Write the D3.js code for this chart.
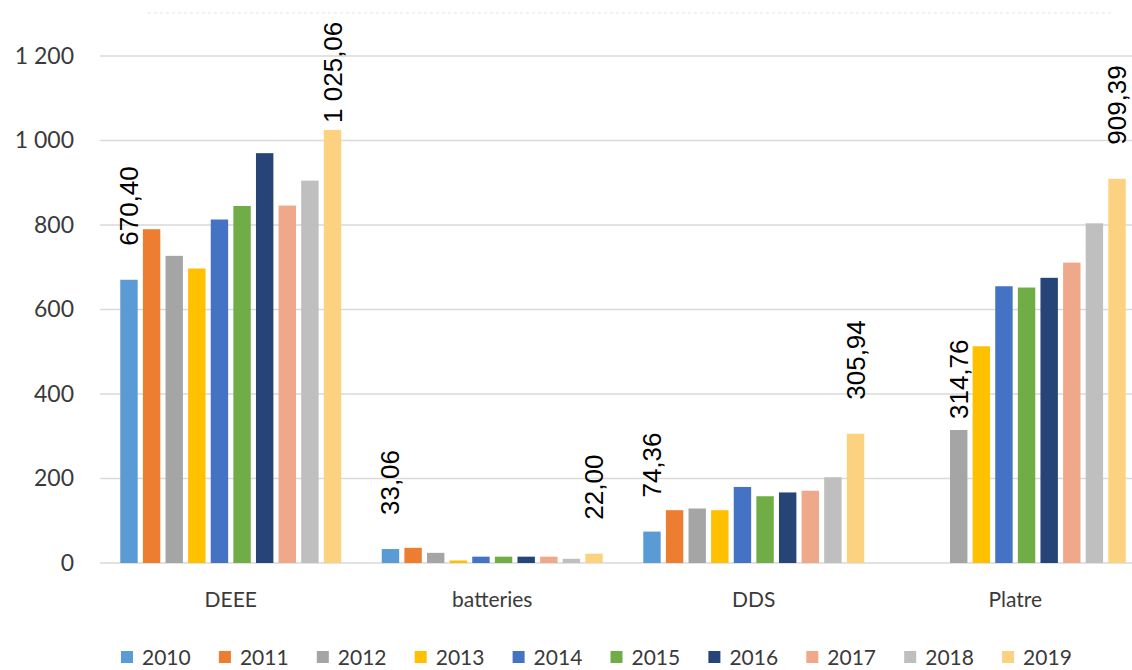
<!DOCTYPE html>
<html>
<head>
<meta charset="utf-8">
<script src="https://cdn.jsdelivr.net/npm/d3@7"></script>
<style>
  body { margin: 0; background: #fff; }
  svg { display: block; }
</style>
</head>
<body>
<div id="chart"></div>
<script>
// categories and series
const categories = ['DEEE', 'batteries', 'DDS', 'Platre'];
const years = ['2010', '2011', '2012', '2013', '2014', '2015', '2016', '2017', '2018', '2019'];
const colors = ['#5B9BD5', '#ED7D31', '#A5A5A5', '#FFC000', '#4472C4', '#70AD47', '#264478', '#F0A88A', '#BFBFBF', '#FCD17F'];

// one array per category, one value per year (null = no bar)
const deee = [670.40, 790, 727, 697, 813, 845, 970, 846, 905, 1025.06];
const batteries = [33.06, 36, 24, 6, 15, 15, 15, 15, 10, 22.00];
const dds = [74.36, 125, 129, 125, 180, 158, 167, 171, 203, 305.94];
const platre = [null, null, 314.76, 513, 655, 652, 675, 711, 804, 909.39];
const seriesByCat = [deee, batteries, dds, platre];

const yTicks = [0, 200, 400, 600, 800, 1000, 1200];

// which bars carry a value label
const labelled = [
    ['DEEE', '2010'], ['DEEE', '2019'],
    ['batteries', '2010'], ['batteries', '2019'],
    ['DDS', '2010'], ['DDS', '2019'],
    ['Platre', '2012'], ['Platre', '2019']
];

const width = 1132, height = 670;
const margin = { top: 56, bottom: 107, left: 100 };

const svg = d3.select('#chart').append('svg')
    .attr('width', width)
    .attr('height', height);

const y = d3.scaleLinear().domain([0, 1200]).range([height - margin.bottom, margin.top]);

// plot area runs a little past the right edge (cropped original)
const x0 = d3.scaleBand().domain(categories).range([margin.left, 1146])
    .paddingInner(0.155).paddingOuter(0.0775);
const x1 = d3.scaleBand().domain(years).range([0, x0.bandwidth()])
    .paddingInner(0.23).paddingOuter(0);

const frFmt = v => {
    const s = v.toFixed(2).replace('.', ',');
    const [i, d] = s.split(',');
    return i.replace(/\B(?=(\d{3})+(?!\d))/g, ' ') + ',' + d;
};

// faint remnant line of the cropped title area
svg.append('line')
    .attr('x1', 148).attr('x2', 1112).attr('y1', 13).attr('y2', 13)
    .attr('stroke', '#eeeeee').attr('stroke-width', 1.5)
    .attr('stroke-dasharray', '3,3');

// gridlines
svg.append('g')
    .selectAll('line')
    .data(yTicks)
    .enter()
    .append('line')
    .attr('x1', margin.left).attr('x2', width)
    .attr('y1', d => y(d)).attr('y2', d => y(d))
    .attr('stroke', '#d9d9d9')
    .attr('stroke-width', 1.5);

// y axis labels
const yAxis = d3.axisLeft(y).tickValues(yTicks).tickSize(0).tickPadding(0)
    .tickFormat(d => d3.format(',')(d).replace(/,/g, ' '));
const yG = svg.append('g')
    .attr('transform', `translate(${74},0)`)
    .call(yAxis);
yG.select('.domain').remove();
yG.selectAll('text')
    .attr('font-family', 'Lato, "Open Sans", sans-serif')
    .attr('font-size', 23)
    .attr('fill', '#3a3a3a');

// bars
const rows = [];
categories.forEach((c, ci) => {
    years.forEach((yr, yi) => {
        const v = seriesByCat[ci][yi];
        if (v !== null) rows.push({ cat: c, year: yr, value: v, color: colors[yi] });
    });
});

svg.append('g')
    .selectAll('rect')
    .data(rows)
    .enter()
    .append('rect')
    .attr('x', d => x0(d.cat) + x1(d.year))
    .attr('y', d => y(d.value))
    .attr('width', x1.bandwidth())
    .attr('height', d => y(0) - y(d.value))
    .attr('fill', d => d.color);

// category axis
const xAxis = d3.axisBottom(x0).tickSize(0).tickPadding(0);
const xG = svg.append('g')
    .attr('transform', `translate(0,${y(0) + 37})`)
    .call(xAxis);
xG.select('.domain').remove();
xG.selectAll('text')
    .attr('font-family', 'Lato, "Open Sans", sans-serif')
    .attr('font-size', 21)
    .attr('fill', '#3a3a3a')
    .attr('dy', '0.35em')
    .attr('y', 0);

// rotated value labels
const labelGap = d => {
    if (d.cat === 'Platre' && d.year === '2012') return 11;
    if (d.cat === 'DEEE' && d.year === '2019') return 7;
    return 34;
};
const labelRows = labelled.map(([c, yr]) => rows.find(r => r.cat === c && r.year === yr));

svg.append('g')
    .selectAll('text')
    .data(labelRows)
    .enter()
    .append('text')
    .attr('transform', d => {
        const cx = x0(d.cat) + x1(d.year) + x1.bandwidth() / 2;
        const cy = y(d.value) - labelGap(d);
        return `translate(${cx},${cy}) rotate(-90)`;
    })
    .attr('text-anchor', 'start')
    .attr('dominant-baseline', 'central')
    .attr('font-family', '"Liberation Sans", Arial, sans-serif')
    .attr('font-size', 26)
    .attr('fill', '#000')
    .text(d => frFmt(d.value));

// legend
const legend = svg.append('g')
    .selectAll('g')
    .data(years)
    .enter()
    .append('g')
    .attr('transform', (d, i) => `translate(${121 + i * 97.9},${651})`);

legend.append('rect')
    .attr('width', 12).attr('height', 12)
    .attr('fill', (d, i) => colors[i]);

legend.append('text')
    .attr('x', 21).attr('y', 6)
    .attr('dy', '0.36em')
    .attr('font-family', 'Lato, "Open Sans", sans-serif')
    .attr('font-size', 21)
    .attr('fill', '#3a3a3a')
    .text(d => d);
</script>
</body>
</html>
